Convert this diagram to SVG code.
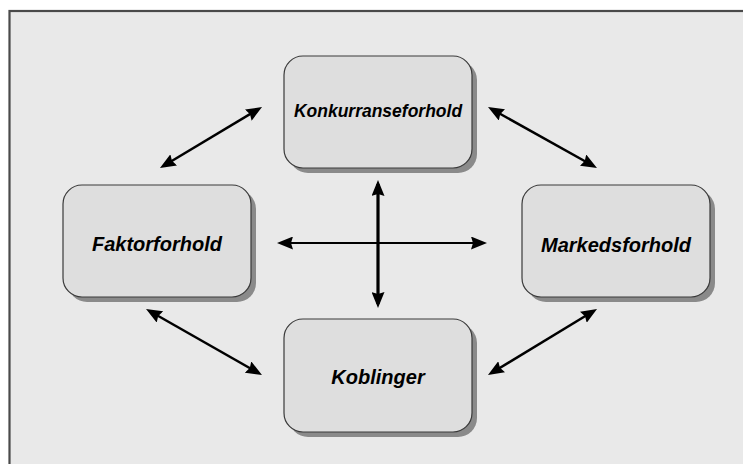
<svg xmlns="http://www.w3.org/2000/svg" width="743" height="464" viewBox="0 0 743 464">
  <style>
    .shadow { fill: #8a8a8a; }
    .box { fill: #dedede; stroke: #3a3a3a; stroke-width: 1.2; }
    .label { font-family: "Liberation Sans", Arial, sans-serif; font-weight: bold; font-style: italic; fill: #000; text-anchor: middle; }
    .conn { stroke: #000; fill: none; }
  </style>
  <defs>
    <marker id="arr" viewBox="0 0 16 13" markerWidth="16" markerHeight="13" refX="12" refY="6.5" orient="auto-start-reverse" markerUnits="userSpaceOnUse">
      <path d="M0,0 L16,6.5 L0,13 L2,6.5 z" fill="#000"/>
    </marker>
  </defs>
  <rect x="0" y="0" width="743" height="464" fill="#ffffff"/>
  <rect x="9.5" y="11" width="760" height="480" fill="#e9e9e9" stroke="#4a4a4a" stroke-width="2.2"/>

  <g id="connectors">
    <line class="conn" x1="163.4" y1="166" x2="258.6" y2="109" stroke-width="2.5" marker-start="url(#arr)" marker-end="url(#arr)"/>
    <line class="conn" x1="491.5" y1="109" x2="593.5" y2="166" stroke-width="2.5" marker-start="url(#arr)" marker-end="url(#arr)"/>
    <line class="conn" x1="491.4" y1="373" x2="593.6" y2="311" stroke-width="2.5" marker-start="url(#arr)" marker-end="url(#arr)"/>
    <line class="conn" x1="149.5" y1="311" x2="258.5" y2="373" stroke-width="2.5" marker-start="url(#arr)" marker-end="url(#arr)"/>
    <line class="conn" x1="281" y1="243" x2="483" y2="243" stroke-width="2" marker-start="url(#arr)" marker-end="url(#arr)"/>
    <line class="conn" x1="378" y1="184" x2="378" y2="304" stroke-width="3.2" marker-start="url(#arr)" marker-end="url(#arr)"/>
  </g>

  <g id="konkurranseforhold">
    <rect class="shadow" x="289" y="61" width="188" height="112" rx="19"/>
    <rect class="box" x="284" y="56" width="188" height="112" rx="19"/>
    <text class="label" x="378" y="117" font-size="17.5">Konkurranseforhold</text>
  </g>
  <g id="faktorforhold">
    <rect class="shadow" x="68" y="190" width="188" height="112" rx="19"/>
    <rect class="box" x="63" y="185" width="188" height="112" rx="19"/>
    <text class="label" x="157" y="251" font-size="20">Faktorforhold</text>
  </g>
  <g id="markedsforhold">
    <rect class="shadow" x="527" y="190" width="188" height="112" rx="19"/>
    <rect class="box" x="522" y="185" width="188" height="112" rx="19"/>
    <text class="label" x="616" y="252" font-size="20">Markedsforhold</text>
  </g>
  <g id="koblinger">
    <rect class="shadow" x="289" y="324" width="188" height="113" rx="19"/>
    <rect class="box" x="284" y="319" width="188" height="113" rx="19"/>
    <text class="label" x="378" y="384" font-size="20">Koblinger</text>
  </g>
</svg>
